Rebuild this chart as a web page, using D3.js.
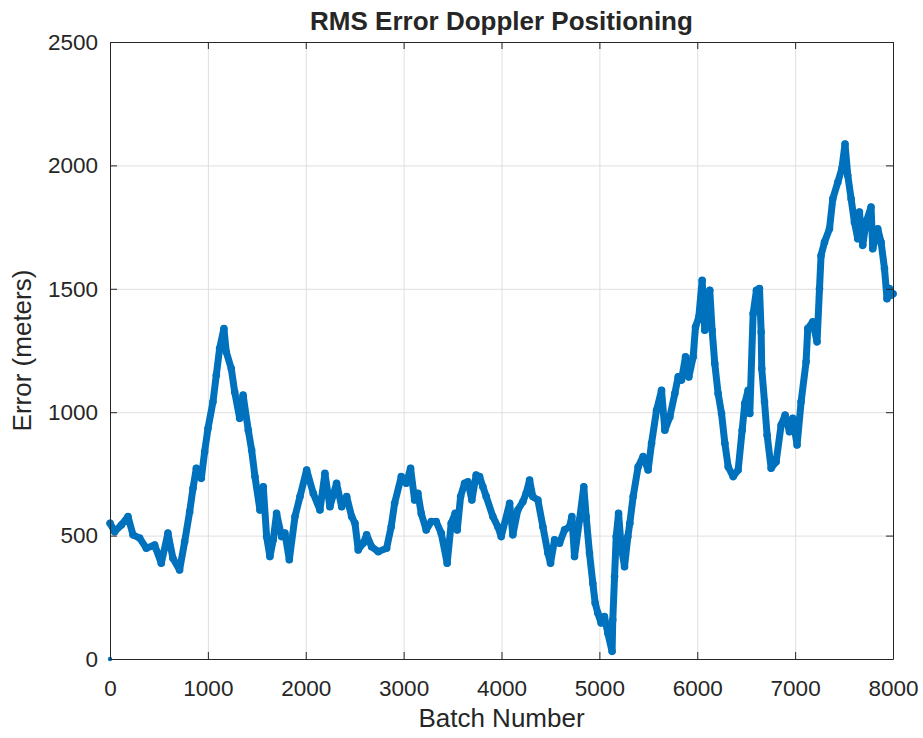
<!DOCTYPE html>
<html>
<head>
<meta charset="utf-8">
<script src="https://cdn.jsdelivr.net/npm/d3@7"></script>
<style>
  html, body { margin: 0; padding: 0; background: #ffffff; }
  svg { display: block; }
  text { font-family: "Liberation Sans", Arial, Helvetica, sans-serif; fill: #262626; }
</style>
</head>
<body>
<script>
// ---------- data ----------
const titleText = "RMS Error Doppler Positioning";
const xLabelText = "Batch Number";
const yLabelText = "Error (meters)";
const xTicks = [0, 1000, 2000, 3000, 4000, 5000, 6000, 7000, 8000];
const yTicks = [0, 500, 1000, 1500, 2000, 2500];

const batches = [
  0, 1, 48, 116, 184, 235, 303, 371, 456, 524, 592, 643, 711, 763, 814, 848, 882, 933, 967,
  1001, 1052, 1086, 1120, 1164, 1188, 1239, 1274, 1325, 1360, 1413, 1447, 1481, 1532, 1566,
  1600, 1634, 1668, 1702, 1753, 1787, 1832, 1890, 1941, 2009, 2077, 2145, 2196, 2247, 2315,
  2367, 2418, 2469, 2503, 2536, 2587, 2622, 2673, 2741, 2826, 2873, 2908, 2976, 3027, 3071,
  3112, 3146, 3180, 3231, 3282, 3333, 3384, 3445, 3486, 3527, 3548, 3582, 3623, 3657, 3697,
  3741, 3776, 3810, 3844, 3912, 3963, 3997, 4083, 4116, 4167, 4218, 4252, 4287, 4320, 4372,
  4423, 4474, 4501, 4542, 4593, 4644, 4695, 4719, 4746, 4797, 4841, 4865, 4899, 4933, 4957,
  4984, 5018, 5052, 5086, 5130, 5137, 5155, 5172, 5196, 5223, 5257, 5291, 5311, 5345, 5396,
  5447, 5498, 5533, 5584, 5635, 5669, 5720, 5771, 5805, 5839, 5880, 5914, 5958, 5982, 6016,
  6050, 6077, 6128, 6152, 6179, 6213, 6248, 6282, 6316, 6367, 6418, 6459, 6486, 6520, 6537,
  6571, 6605, 6636, 6653, 6659, 6687, 6714, 6755, 6806, 6857, 6898, 6942, 6976, 7020, 7061,
  7112, 7129, 7180, 7224, 7249, 7265, 7300, 7351, 7385, 7436, 7477, 7510, 7538, 7572, 7606,
  7640, 7657, 7691, 7725, 7776, 7793, 7844, 7878, 7913, 7939, 7963, 7980, 8000
];
const errors = [
  0, 550, 516, 543, 577, 503, 490, 449, 462, 388, 510, 408, 361, 476, 597, 692, 773, 732, 840,
  934, 1042, 1150, 1258, 1339, 1244, 1177, 1082, 975, 1069, 927, 847, 739, 604, 698,
  496, 415, 483, 590, 496, 510, 402, 577, 658, 766, 671, 604, 752, 617, 712,
  617, 658, 577, 550, 442, 469, 503, 455, 435, 449, 536, 631, 739, 712, 773,
  644, 671, 590, 523, 557, 557, 510, 388, 550, 590, 523, 658, 712, 718, 644,
  745, 739, 698, 658, 577, 536, 496, 631, 503, 604, 637, 671, 725, 658, 644,
  536, 429, 388, 483, 469, 523, 536, 577, 415, 563, 698, 577, 429, 307, 227,
  186, 146, 172, 105, 31, 159, 334, 496, 590, 455, 374, 496, 550, 658, 779,
  820, 766, 874, 1008, 1089, 927, 981, 1076, 1143, 1130, 1224, 1143, 1224, 1345, 1386,
  1534, 1332, 1494, 1332, 1197, 1076, 995, 874, 779, 739, 766, 927, 1036, 1089, 995,
  1400, 1494, 1501, 1325, 1177, 1042, 907, 773, 799, 948, 988, 921, 975, 867, 1042,
  1204, 1339, 1366, 1285, 1501, 1635, 1689, 1743, 1865, 1932, 1986, 2087, 1959, 1865, 1770,
  1703, 1811, 1676, 1770, 1831, 1662, 1743, 1689, 1582, 1460, 1501, 1474, 1480
];

// ---------- layout ----------
const W = 923, H = 738;
const margin = { left: 110, top: 42, right: 30, bottom: 79 };
const pw = W - margin.left - margin.right;   // 783
const ph = H - margin.top - margin.bottom;   // 617
const color = "#0072BD";
const axisColor = "#262626";
const gridColor = "#dfdfdf";

const points = batches.map((b, i) => ({ x: b, y: errors[i] }));

const svg = d3.select("body").append("svg").attr("width", W).attr("height", H);
const g = svg.append("g").attr("transform", `translate(${margin.left},${margin.top})`);

const x = d3.scaleLinear().domain([0, 8000]).range([0, pw]);
const y = d3.scaleLinear().domain([0, 2500]).range([ph, 0]);

// grid
g.append("g").attr("transform", `translate(0,${ph})`)
  .call(d3.axisBottom(x).tickValues(xTicks).tickSize(-ph).tickFormat(""))
  .call(s => { s.select(".domain").remove(); s.selectAll("line").attr("stroke", gridColor).attr("stroke-width", 1); });
g.append("g")
  .call(d3.axisLeft(y).tickValues(yTicks).tickSize(-pw).tickFormat(""))
  .call(s => { s.select(".domain").remove(); s.selectAll("line").attr("stroke", gridColor).attr("stroke-width", 1); });

// data
const dataG = g.append("g");
const line = d3.line().x(d => x(d.x)).y(d => y(d.y));
dataG.append("path")
  .datum(points.slice(1))
  .attr("d", line)
  .attr("fill", "none")
  .attr("stroke", color)
  .attr("stroke-width", 7)
  .attr("stroke-linejoin", "round")
  .attr("stroke-linecap", "round");
dataG.selectAll("circle.pt").data(points.slice(1)).join("circle")
  .attr("class", "pt")
  .attr("cx", d => x(d.x)).attr("cy", d => y(d.y)).attr("r", 3.8)
  .attr("fill", color);
dataG.append("circle").datum(points[0])
  .attr("cx", d => x(d.x)).attr("cy", d => y(d.y)).attr("r", 2.2).attr("fill", color);

// axes
const fs = 22.5;
const fmt = d3.format("d");
const styleAxis = s => {
  s.select(".domain").attr("stroke", axisColor).attr("stroke-width", 1);
  s.selectAll(".tick line").attr("stroke", axisColor).attr("stroke-width", 1);
  s.selectAll(".tick text").attr("fill", axisColor).style("font-size", fs + "px")
    .style("font-family", '"Liberation Sans", Arial, sans-serif');
};
g.append("g").attr("transform", `translate(0,${ph})`)
  .call(d3.axisBottom(x).tickValues(xTicks).tickFormat(fmt).tickSizeInner(-7).tickSizeOuter(0).tickPadding(21))
  .call(styleAxis);
g.append("g")
  .call(d3.axisLeft(y).tickValues(yTicks).tickFormat(fmt).tickSizeInner(-7).tickSizeOuter(0).tickPadding(12))
  .call(styleAxis);
g.append("g")
  .call(d3.axisTop(x).tickValues(xTicks).tickSizeInner(-7).tickSizeOuter(0).tickFormat(""))
  .call(styleAxis);
g.append("g").attr("transform", `translate(${pw},0)`)
  .call(d3.axisRight(y).tickValues(yTicks).tickSizeInner(-7).tickSizeOuter(0).tickFormat(""))
  .call(styleAxis);

// title and labels
svg.append("text")
  .attr("x", margin.left + pw / 2).attr("y", 30)
  .attr("text-anchor", "middle")
  .style("font-size", "26px").style("font-weight", "bold")
  .text(titleText);
svg.append("text")
  .attr("x", margin.left + pw / 2).attr("y", 727)
  .attr("text-anchor", "middle")
  .style("font-size", "26px")
  .text(xLabelText);
svg.append("text")
  .attr("transform", `translate(31,${margin.top + ph / 2}) rotate(-90)`)
  .attr("text-anchor", "middle")
  .style("font-size", "26px")
  .text(yLabelText);
</script>
</body>
</html>
